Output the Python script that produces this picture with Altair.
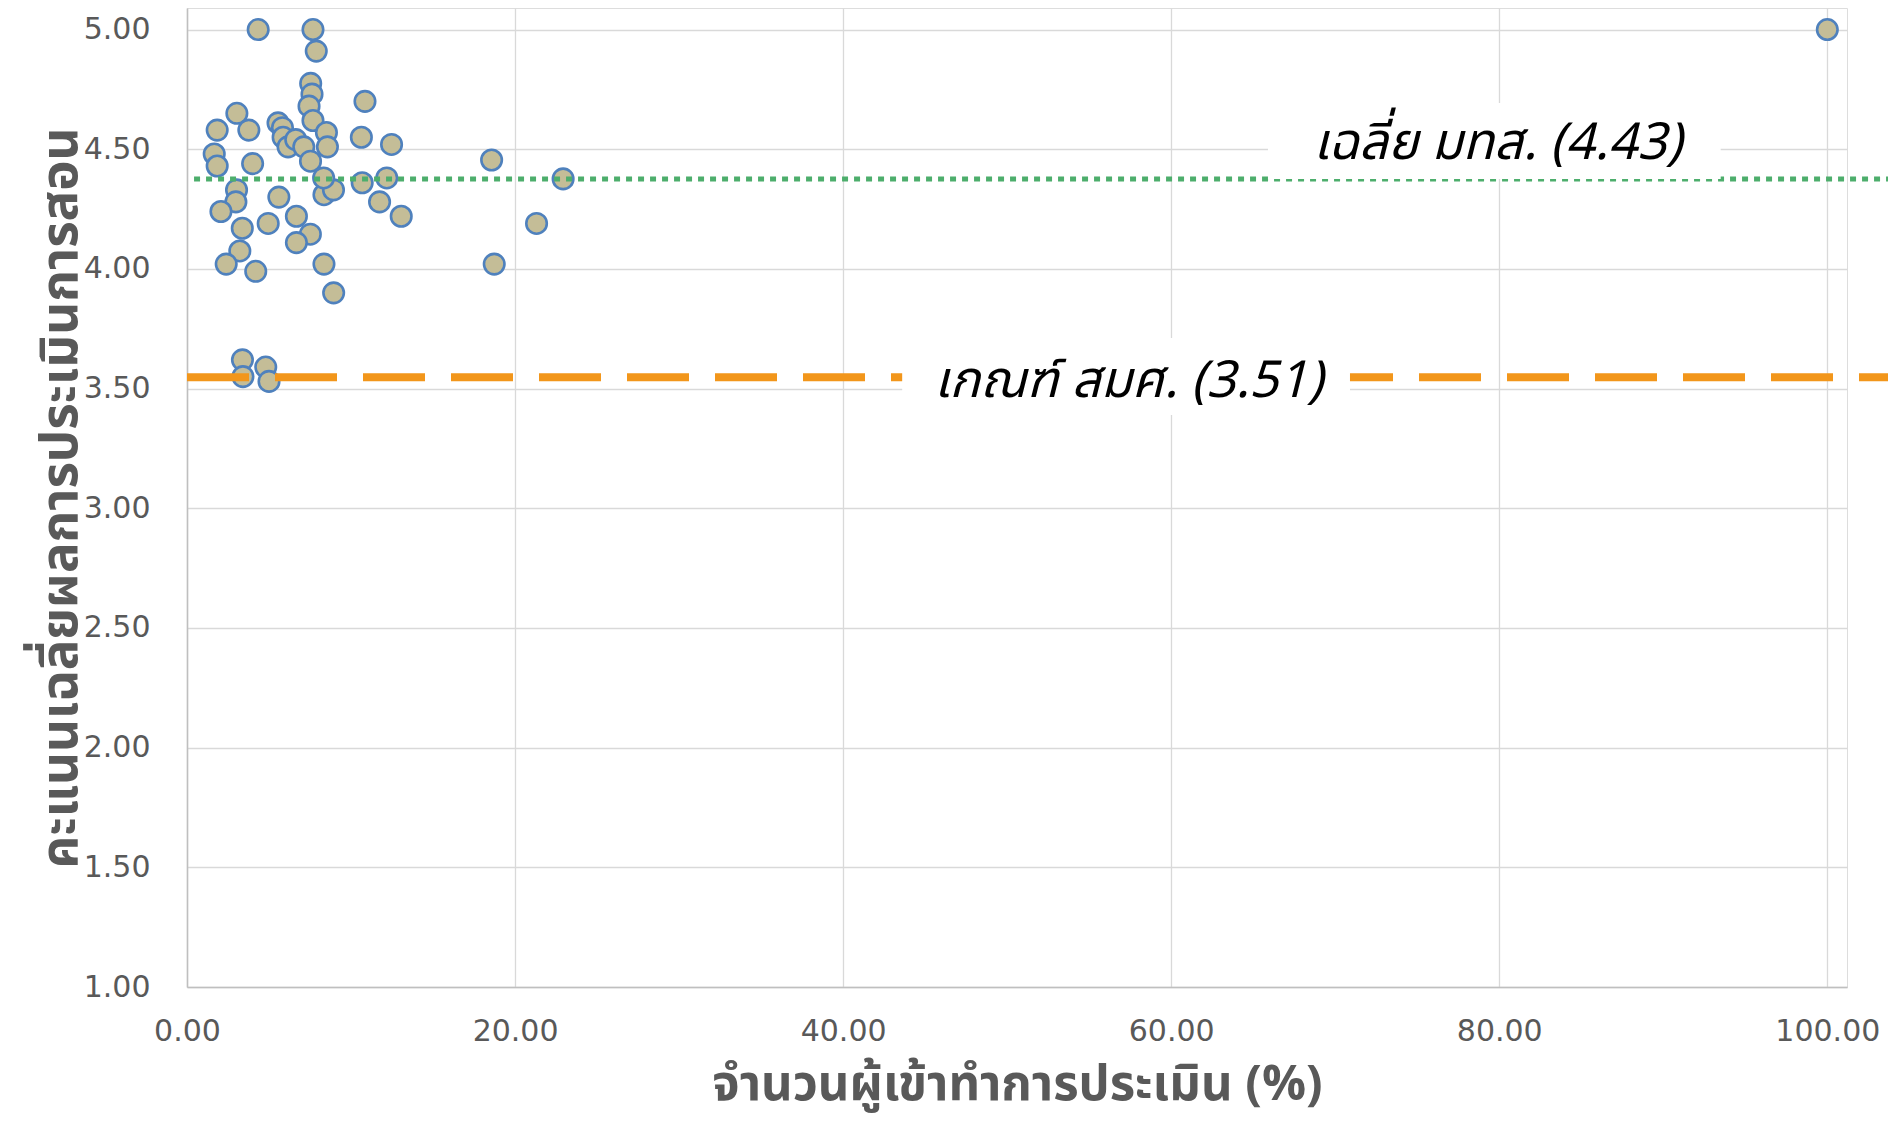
import altair as alt
import pandas as pd

# ---- data ----
participants_pct = [4.34, 7.68, 7.88, 7.54, 7.62, 7.44, 7.68, 10.85, 3.04, 1.84,
                    3.77, 5.55, 5.82, 5.86, 6.16, 6.63, 7.12, 7.53, 8.50, 8.56,
                    10.63, 12.47, 1.66, 1.84, 4.00, 3.02, 2.98, 2.07, 5.60, 3.37,
                    4.95, 6.67, 7.52, 6.67, 3.22, 2.39, 4.19, 8.35, 8.94, 8.35,
                    8.93, 8.33, 10.68, 12.18, 11.74, 13.06, 18.57, 22.93, 21.31, 18.73,
                    3.38, 4.80, 3.41, 5.00, 100.0]
teaching_score = [5.00, 5.00, 4.91, 4.775, 4.73, 4.68, 4.62, 4.70, 4.65, 4.58,
                  4.58, 4.61, 4.59, 4.55, 4.51, 4.54, 4.51, 4.45, 4.57, 4.51,
                  4.55, 4.52, 4.48, 4.43, 4.44, 4.33, 4.28, 4.24, 4.30, 4.17,
                  4.19, 4.22, 4.145, 4.11, 4.075, 4.02, 3.99, 4.02, 3.90, 4.31,
                  4.33, 4.38, 4.36, 4.38, 4.28, 4.22, 4.455, 4.376, 4.19, 4.02,
                  3.62, 3.59, 3.55, 3.53, 5.00]

x_ticks = [0, 20, 40, 60, 80, 100]
y_ticks = [1.0, 1.5, 2.0, 2.5, 3.0, 3.5, 4.0, 4.5, 5.0]

ref_labels = ["เฉลี่ย มทส. (4.43)", "เกณฑ์ สมศ. (3.51)"]
ref_levels = [4.376, 3.547]          # where the reference lines are drawn
ref_x_start = [0.43, 0.0]
ref_x_end = [104.2, 103.8]
label_x = [79.9, 57.4]
label_y = [4.52, 3.528]
box_x = [65.9, 43.6]
box_x2 = [93.5, 70.9]
box_y = [4.376, 3.39]
box_y2 = [4.693, 3.711]

x_title = "จำนวนผู้เข้าทำการประเมิน (%)"
y_title = "คะแนนเฉลี่ยผลการประเมินการสอน"

pts = pd.DataFrame({"x": participants_pct, "y": teaching_score})
lines = pd.DataFrame({"x": ref_x_start, "x2": ref_x_end, "y": ref_levels,
                      "kind": ["avg", "crit"]})
boxes = pd.DataFrame({"x": box_x, "x2": box_x2, "y": box_y, "y2": box_y2})
labels = pd.DataFrame({"x": label_x, "y": label_y, "t": ref_labels})

W, H = 1660, 979
thai_font = "'Noto Sans Thai', 'Noto Sans Thai UI', Tahoma, 'DejaVu Sans', sans-serif"
lab_font = "'DejaVu Sans', Verdana, sans-serif"

xscale = alt.Scale(domain=[0, 101.2], nice=False, zero=False)
yscale = alt.Scale(domain=[1, 5.09], nice=False, zero=False)

xaxis = alt.Axis(values=x_ticks, format=".2f", title=x_title, grid=True,
                 gridColor="#D9D9D9", gridWidth=1.3, domainColor="#BFBFBF", domainWidth=1.5,
                 ticks=False, labelPadding=29, labelFlush=False, labelFont=lab_font,
                 labelFontSize=30, labelColor="#595959", titleFont=thai_font,
                 titleFontSize=49, titleFontWeight="bold", titleColor="#595959",
                 titleY=112, titleBaseline="alphabetic")
yaxis = alt.Axis(values=y_ticks, format=".2f", title=y_title, grid=True,
                 gridColor="#D9D9D9", gridWidth=1.3, domainColor="#BFBFBF", domainWidth=1.5,
                 ticks=False, labelPadding=37, labelFlush=False, labelFont=lab_font,
                 labelFontSize=30, labelColor="#595959", titleFont=thai_font,
                 titleFontSize=51, titleFontWeight="bold", titleColor="#595959",
                 titleX=-126, titleY=H / 2, titleAngle=270, titleAlign="center",
                 titleBaseline="middle")

points = alt.Chart(pts).mark_point(
    shape="circle", filled=True, size=420, fill="#C4BD97", stroke="#4F81BD",
    strokeWidth=2.6, opacity=1
).encode(
    x=alt.X("x:Q", scale=xscale, axis=xaxis),
    y=alt.Y("y:Q", scale=yscale, axis=yaxis),
)

green = alt.Chart(lines[lines.kind == "avg"]).mark_rule(
    color="#4DAE6C", strokeWidth=5, strokeDash=[6, 6], clip=False
).encode(x=alt.X("x:Q", scale=xscale), x2="x2:Q", y=alt.Y("y:Q", scale=yscale))

orange = alt.Chart(lines[lines.kind == "crit"]).mark_rule(
    color="#F2961B", strokeWidth=8, strokeDash=[62, 26], clip=False
).encode(x=alt.X("x:Q", scale=xscale), x2="x2:Q", y=alt.Y("y:Q", scale=yscale))

rects = alt.Chart(boxes).mark_rect(color="white", opacity=1).encode(
    x=alt.X("x:Q", scale=xscale), x2="x2:Q",
    y=alt.Y("y:Q", scale=yscale), y2="y2:Q")

texts = alt.Chart(labels).mark_text(
    font=thai_font, fontSize=51, fontStyle="italic", color="black",
    align="center", baseline="middle"
).encode(x=alt.X("x:Q", scale=xscale), y=alt.Y("y:Q", scale=yscale), text="t:N")

chart = alt.layer(points, green, orange, rects, texts).properties(
    width=W, height=H,
    autosize=alt.AutoSizeParams(type="none"),
    padding={"left": 179, "top": 0, "right": 41, "bottom": 135},
).configure_view(stroke=None).configure(background="white")

chart.save("out.html", embed_options={"renderer": "svg", "actions": False})
